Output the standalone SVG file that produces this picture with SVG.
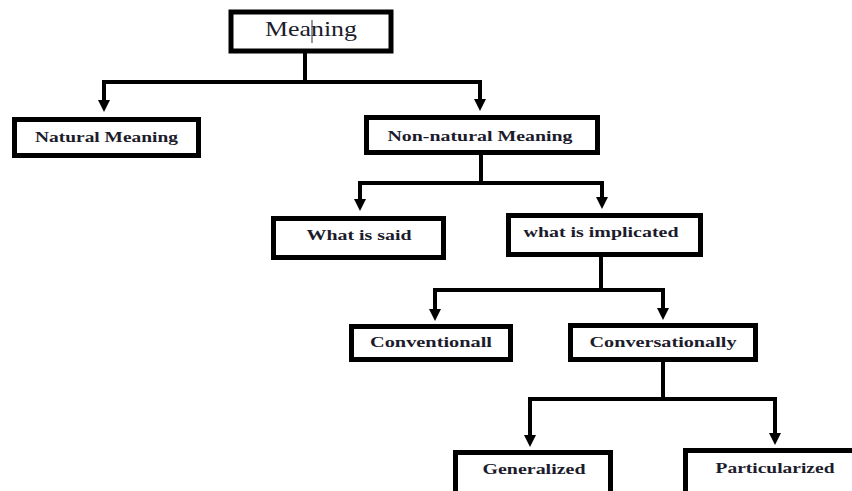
<svg xmlns="http://www.w3.org/2000/svg" width="852" height="491" viewBox="0 0 852 491">
<style>
.box{fill:#fff;stroke:#000;stroke-width:5}
.lbl{font-family:'Liberation Serif','DejaVu Serif',Times,serif;font-weight:bold;font-size:15px;fill:#1c1c2c;text-anchor:middle}
.top{font-family:'Liberation Serif','DejaVu Serif',Times,serif;font-size:21px;fill:#1c1c2c;text-anchor:middle}
.con{fill:none;stroke:#000;stroke-width:4}
</style>
<defs>
<marker id="arr" markerUnits="userSpaceOnUse" markerWidth="12" markerHeight="12" refX="2" refY="6" orient="auto">
<path d="M0,0 L12,6 L0,12 z" fill="#000"/>
</marker>
</defs>
<rect width="852" height="491" fill="#fff"/>
<g id="connectors">
<path class="con" d="M305 51 V82 M102 82 H482 M481 153 V183 M358 183 H604 M601 255 V290 M433 290 H665 M663 360 V399 M528 399 H777"/>
<path class="con" d="M104 82 V102" marker-end="url(#arr)"/>
<path class="con" d="M480 82 V101" marker-end="url(#arr)"/>
<path class="con" d="M360 183 V201" marker-end="url(#arr)"/>
<path class="con" d="M602 183 V199" marker-end="url(#arr)"/>
<path class="con" d="M435 290 V311" marker-end="url(#arr)"/>
<path class="con" d="M663 290 V310" marker-end="url(#arr)"/>
<path class="con" d="M530 399 V437" marker-end="url(#arr)"/>
<path class="con" d="M775 399 V435" marker-end="url(#arr)"/>
</g>
<g id="meaning">
<rect class="box" x="231" y="12" width="160" height="39"/>
<text class="top" x="311" y="36" textLength="92" lengthAdjust="spacingAndGlyphs">Meaning</text>
<line x1="312" y1="20" x2="312" y2="43" stroke="#333" stroke-width="1"/>
</g>
<g id="natural">
<rect class="box" x="14.5" y="119.5" width="184" height="36"/>
<text class="lbl" x="106.5" y="142" textLength="143" lengthAdjust="spacingAndGlyphs">Natural Meaning</text>
</g>
<g id="nonnatural">
<rect class="box" x="366.5" y="117.5" width="231" height="35"/>
<text class="lbl" x="480" y="141" textLength="185" lengthAdjust="spacingAndGlyphs">Non-natural Meaning</text>
</g>
<g id="said">
<rect class="box" x="273.5" y="218.5" width="170" height="39"/>
<text class="lbl" x="359" y="240" textLength="105" lengthAdjust="spacingAndGlyphs">What is said</text>
</g>
<g id="implicated">
<rect class="box" x="508.5" y="215.5" width="192" height="39"/>
<text class="lbl" x="601" y="237" textLength="155" lengthAdjust="spacingAndGlyphs">what is implicated</text>
</g>
<g id="conventional">
<rect class="box" x="351.5" y="326.5" width="159" height="33"/>
<text class="lbl" x="431" y="347" textLength="122" lengthAdjust="spacingAndGlyphs">Conventionall</text>
</g>
<g id="conversational">
<rect class="box" x="570.5" y="325.5" width="185" height="34"/>
<text class="lbl" x="663" y="347" textLength="147" lengthAdjust="spacingAndGlyphs">Conversationally</text>
</g>
<g id="generalized">
<rect class="box" x="455.5" y="452.5" width="155" height="45"/>
<text class="lbl" x="534" y="474" textLength="103" lengthAdjust="spacingAndGlyphs">Generalized</text>
</g>
<g id="particularized">
<rect class="box" x="685.5" y="450.5" width="180" height="45"/>
<text class="lbl" x="775" y="473" textLength="119" lengthAdjust="spacingAndGlyphs">Particularized</text>
</g>
</svg>
